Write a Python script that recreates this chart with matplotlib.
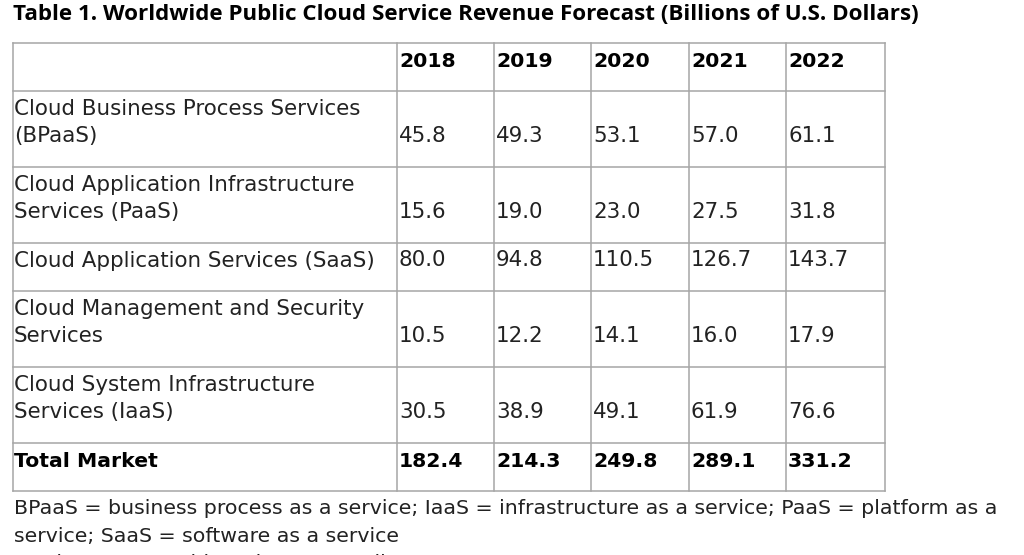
import matplotlib
matplotlib.use('Agg')
import matplotlib.pyplot as plt

# --- data -----------------------------------------------------------------
title = "Table 1. Worldwide Public Cloud Service Revenue Forecast (Billions of U.S. Dollars)"
years = ['2018', '2019', '2020', '2021', '2022']
categories = [
    "Cloud Business Process Services\n(BPaaS)",
    "Cloud Application Infrastructure\nServices (PaaS)",
    "Cloud Application Services (SaaS)",
    "Cloud Management and Security\nServices",
    "Cloud System Infrastructure\nServices (IaaS)",
]
bpaas = [45.8, 49.3, 53.1, 57.0, 61.1]
paas = [15.6, 19.0, 23.0, 27.5, 31.8]
saas = [80.0, 94.8, 110.5, 126.7, 143.7]
mgmt = [10.5, 12.2, 14.1, 16.0, 17.9]
iaas = [30.5, 38.9, 49.1, 61.9, 76.6]
total_label = "Total Market"
total = [182.4, 214.3, 249.8, 289.1, 331.2]
footnotes = [
    "BPaaS = business process as a service; IaaS = infrastructure as a service; PaaS = platform as a",
    "service; SaaS = software as a service",
    "Totals may not add up due to rounding.",
]

# --- layout (pixels) -------------------------------------------------------
W, H = 1024, 555
col_x = [13, 397, 494, 591, 689, 786, 885]
row_y = [43, 91, 167, 243, 291, 367, 443, 491]
line_gap = 27
body_font = 'DejaVu Sans'
title_kw = dict(fontweight='bold', fontstretch='normal',
                family=['Open Sans', 'DejaVu Sans'], color='black')
bold_kw = dict(fontweight='bold', family='DejaVu Sans', color='black')
body_size = 15.4
bold_size = 14.7
note_size = 14.75
txt_color = '#222222'
grid_color = '#a6a6a6'

fig = plt.figure(figsize=(W / 100, H / 100), dpi=100)
ax = fig.add_axes([0, 0, 1, 1])
ax.set_xlim(0, W)
ax.set_ylim(H, 0)
ax.axis('off')

# title, sized to its width in the picture
t = ax.text(13, 20, title, fontsize=14, ha='left', va='baseline', **title_kw)
fig.canvas.draw()
bb = t.get_window_extent()
t.set_fontsize(14 * (922 - 13) / bb.width)

# grid lines
for y in row_y:
    ax.plot([col_x[0], col_x[-1]], [y, y], color=grid_color, lw=1.1)
for x in col_x:
    ax.plot([x, x], [row_y[0], row_y[-1]], color=grid_color, lw=1.1)

rows = [bpaas, paas, saas, mgmt, iaas]

# header
for j, yr in enumerate(years):
    ax.text(col_x[j + 1] + 2, row_y[1] - 24, yr, fontsize=bold_size,
            va='baseline', **bold_kw)

# body rows
for i, (cat, vals) in enumerate(zip(categories, rows)):
    top, bot = row_y[i + 1], row_y[i + 2]
    for k, line in enumerate(cat.split('\n')):
        ax.text(col_x[0] + 1, top + 24 + k * line_gap, line, fontsize=body_size,
                family=body_font, color=txt_color, va='baseline')
    for j, v in enumerate(vals):
        ax.text(col_x[j + 1] + 2, bot - 24.5, f'{v:.1f}', fontsize=body_size,
                family=body_font, color=txt_color, va='baseline')

# total row
ax.text(col_x[0] + 1, row_y[-1] - 24, total_label, fontsize=bold_size,
        va='baseline', **bold_kw)
for j, v in enumerate(total):
    ax.text(col_x[j + 1] + 2, row_y[-1] - 24, f'{v:.1f}', fontsize=bold_size,
            va='baseline', **bold_kw)

# footnotes (last one runs off the bottom edge, as in the source)
for k, line in enumerate(footnotes):
    ax.text(14, 514 + k * 27.5, line, fontsize=note_size, family=body_font,
            color=txt_color, va='baseline')

fig.savefig('out.png', dpi=100, facecolor='white')
